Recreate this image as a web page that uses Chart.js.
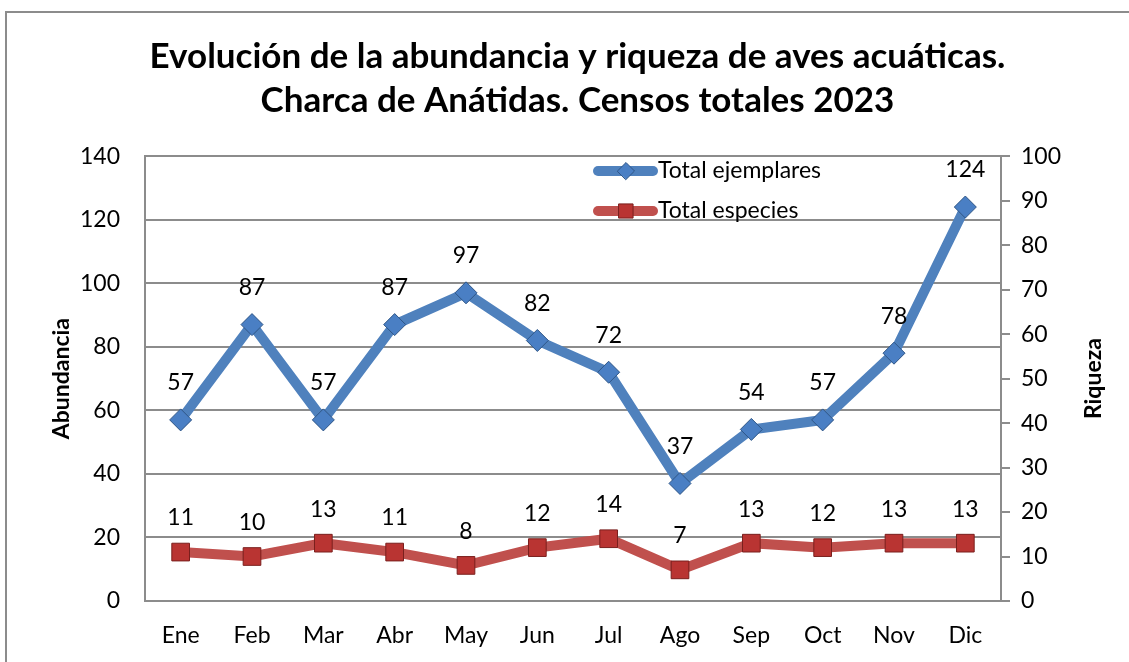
<!DOCTYPE html>
<html>
<head>
<meta charset="utf-8">
<script src="https://cdn.jsdelivr.net/npm/chart.js@4.4.1/dist/chart.umd.min.js"></script>
<style>
  html, body { margin: 0; padding: 0; background: #fff; }
  #wrap { width: 1129px; height: 662px; position: relative; }
</style>
</head>
<body>
<div id="wrap"><canvas id="chart" width="1129" height="662"></canvas></div>
<script>
// datos del censo
const meses = ['Ene', 'Feb', 'Mar', 'Abr', 'May', 'Jun', 'Jul', 'Ago', 'Sep', 'Oct', 'Nov', 'Dic'];
const totalEjemplares = [57, 87, 57, 87, 97, 82, 72, 37, 54, 57, 78, 124];
const totalEspecies = [11, 10, 13, 11, 8, 12, 14, 7, 13, 12, 13, 13];
const tituloLineas = ['Evolución de la abundancia y riqueza de aves acuáticas.', 'Charca de Anátidas. Censos totales 2023'];

const FONT = 'Lato, "Open Sans", sans-serif';
const GRIS = '#8c8c8c';
const AZUL = '#4f81bd';
const ROJO = '#c0504d';

// marco exterior del gráfico
const marcoPlugin = {
  id: 'marco',
  beforeDraw(chart) {
    const ctx = chart.ctx;
    ctx.save();
    ctx.fillStyle = '#fff';
    ctx.fillRect(0, 0, chart.width, chart.height);
    ctx.strokeStyle = GRIS;
    ctx.lineWidth = 2;
    ctx.strokeRect(6, 12, chart.width + 10, chart.height + 10);
    ctx.restore();
  }
};

// título del eje derecho, girado como el izquierdo (de abajo arriba)
const tituloDerechoPlugin = {
  id: 'tituloDerecho',
  afterDraw(chart) {
    const ctx = chart.ctx;
    const area = chart.chartArea;
    ctx.save();
    ctx.translate(1094, (area.top + area.bottom) / 2);
    ctx.rotate(-Math.PI / 2);
    ctx.font = 'bold 23px ' + FONT;
    ctx.fillStyle = '#000';
    ctx.textAlign = 'center';
    ctx.textBaseline = 'middle';
    ctx.fillText('Riqueza', 0, 0);
    ctx.restore();
  }
};

// etiquetas de datos encima de cada punto
const etiquetasPlugin = {
  id: 'etiquetas',
  afterDatasetsDraw(chart) {
    const ctx = chart.ctx;
    ctx.save();
    ctx.font = '23px ' + FONT;
    ctx.fillStyle = '#000';
    ctx.textAlign = 'center';
    ctx.textBaseline = 'middle';
    chart.data.datasets.forEach((ds, i) => {
      const meta = chart.getDatasetMeta(i);
      meta.data.forEach((pt, j) => {
        const off = i === 0 ? 37 : 34;
        ctx.fillText(String(ds.data[j]), pt.x, pt.y - off);
      });
    });
    ctx.restore();
  }
};

// leyenda dentro del área de trazado
const leyendaPlugin = {
  id: 'leyenda',
  afterDatasetsDraw(chart) {
    const ctx = chart.ctx;
    const x0 = 598, y0 = 171, paso = 40;
    const radios = [8.5, 10];
    ctx.save();
    chart.data.datasets.forEach((ds, i) => {
      const y = y0 + i * paso;
      ctx.strokeStyle = ds.borderColor;
      ctx.lineWidth = 10;
      ctx.lineCap = 'round';
      ctx.beginPath();
      ctx.moveTo(x0, y);
      ctx.lineTo(x0 + 55, y);
      ctx.stroke();
      ctx.fillStyle = ds.pointBackgroundColor;
      ctx.strokeStyle = ds.pointBorderColor;
      ctx.lineWidth = 1;
      Chart.helpers.drawPoint(ctx, {
        pointStyle: ds.pointStyle,
        radius: radios[i],
        borderWidth: 1
      }, x0 + 28, y);
      ctx.fillStyle = '#000';
      ctx.font = '23px ' + FONT;
      ctx.textAlign = 'left';
      ctx.textBaseline = 'middle';
      ctx.fillText(ds.label, x0 + 60, y);
    });
    ctx.restore();
  }
};

new Chart(document.getElementById('chart'), {
  type: 'line',
  data: {
    labels: meses,
    datasets: [
      {
        label: 'Total ejemplares',
        data: totalEjemplares,
        yAxisID: 'y',
        borderColor: AZUL,
        borderWidth: 10,
        pointStyle: 'rectRot',
        pointRadius: 11,
        pointBackgroundColor: '#4a7fc4',
        pointBorderColor: '#2f5687',
        pointBorderWidth: 1,
        tension: 0
      },
      {
        label: 'Total especies',
        data: totalEspecies,
        yAxisID: 'y1',
        borderColor: ROJO,
        borderWidth: 10,
        pointStyle: 'rect',
        pointRadius: 12.5,
        pointBackgroundColor: '#b93432',
        pointBorderColor: '#7a1f1d',
        pointBorderWidth: 1,
        tension: 0
      }
    ]
  },
  options: {
    responsive: false,
    animation: false,
    layout: { padding: { left: 48, right: 22, top: 0, bottom: 0 } },
    plugins: {
      legend: { display: false },
      tooltip: { enabled: false },
      title: {
        display: true,
        text: tituloLineas,
        color: '#000',
        font: { family: FONT, size: 35, weight: 'bold', lineHeight: 1.26 },
        padding: { top: 35, bottom: 33 }
      }
    },
    scales: {
      x: {
        offset: true,
        grid: { display: false, drawTicks: false },
        border: { color: GRIS, width: 2 },
        ticks: { color: '#000', font: { family: FONT, size: 23 }, padding: 21 },
        afterFit(s) { s.height = 61; }
      },
      y: {
        position: 'left',
        min: 0, max: 140,
        ticks: { stepSize: 20, color: '#000', font: { family: FONT, size: 23 }, padding: 25 },
        grid: { color: GRIS, lineWidth: 2, drawTicks: false },
        border: { color: GRIS, width: 2 },
        title: { display: true, text: 'Abundancia', color: '#000', font: { family: FONT, size: 23, weight: 'bold' }, padding: 0 },
        afterFit(s) { s.width = 97; }
      },
      y1: {
        position: 'right',
        min: 0, max: 100,
        ticks: { stepSize: 10, color: '#000', font: { family: FONT, size: 23 }, padding: 11 },
        grid: { drawOnChartArea: false, color: GRIS, lineWidth: 2, tickLength: 9 },
        border: { color: GRIS, width: 2 },
        title: { display: false },
        afterFit(s) { s.width = 106; }
      }
    }
  },
  plugins: [marcoPlugin, etiquetasPlugin, leyendaPlugin, tituloDerechoPlugin]
});
</script>
</body>
</html>
